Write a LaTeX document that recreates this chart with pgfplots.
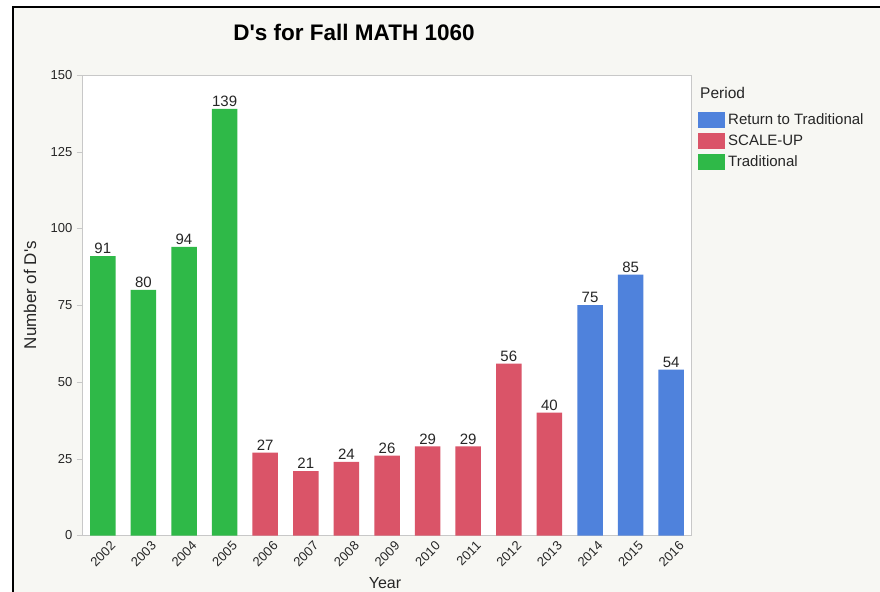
\documentclass[border=0pt]{standalone}
\usepackage{pgfplots}
\pgfplotsset{compat=1.18}
\usepackage{fontspec}
\setmainfont{Liberation Sans}
\definecolor{bgc}{HTML}{F7F7F3}
\definecolor{cgreen}{HTML}{2FB948}
\definecolor{cred}{HTML}{DA5468}
\definecolor{cblue}{HTML}{4F82DC}
\definecolor{axgray}{HTML}{C8C8C8}
\definecolor{txt}{HTML}{262626}
\begin{document}
\begin{tikzpicture}
\useasboundingbox (0,0) rectangle (880bp,592bp);
\fill[white] (0,0) rectangle (880bp,592bp);
\fill[bgc] (13bp,0) rectangle (880bp,585bp);
\draw[black,line width=2bp] (13bp,0) -- (13bp,585bp) -- (880bp,585bp);
\node[font=\bfseries\fontsize{22.5bp}{26bp}\selectfont] at (354bp,560bp) {D\textquotesingle s for Fall MATH 1060};
\node[anchor=base west,font=\fontsize{15.5bp}{18bp}\selectfont,text=txt,inner sep=0pt] at (700bp,493bp) {Period};
\begin{axis}[
  at={(82.5bp,56.5bp)}, anchor=south west,
  scale only axis, width=609bp, height=460.5bp,
  xmin=-0.5, xmax=14.5, ymin=0, ymax=150,
  axis background/.style={fill=white},
  axis line style={axgray},
  ytick={0,25,50,75,100,125,150},
  ytick pos=left,
  xtick={0,...,14},
  xticklabels={2002,2003,2004,2005,2006,2007,2008,2009,2010,2011,2012,2013,2014,2015,2016},
  tick align=outside, major tick length=6bp,
  ytick style={axgray},
  xtick style={draw=none},
  /pgf/number format/assume math mode=true,
  tick label style={font=\fontsize{13bp}{15bp}\selectfont, text=txt},
  yticklabel style={inner sep=0pt, xshift=-4bp},
  xticklabel style={rotate=45, anchor=north east, inner sep=0pt, xshift=6bp, yshift=-4bp},
  ylabel={Number of D\textquotesingle s},
  ylabel style={at={(axis description cs:-0.0862,0.522)}, anchor=center, font=\fontsize{17bp}{20bp}\selectfont, text=txt},
  xlabel={Year},
  xlabel style={at={(axis description cs:0.4967,-0.103)}, anchor=center, font=\fontsize{16bp}{19bp}\selectfont, text=txt},
  ybar, bar width=25.5bp, bar shift=0pt,
  nodes near coords,
  nodes near coords style={font=\fontsize{15bp}{17bp}\selectfont, text=txt, inner sep=2bp},
  legend style={at={(1.0107,0.921)}, anchor=north west, draw=none, fill=none, inner sep=0pt,
    row sep=5bp, font=\fontsize{15bp}{18bp}\selectfont, text=txt,
    nodes={inner sep=0pt}},
  legend cell align=left,
  legend image code/.code={\fill[#1] (0bp,-8bp) rectangle (27bp,8bp); \path (30bp,0bp);},
]
\addplot[fill=cblue, draw=none] coordinates {(12,75) (13,85) (14,54)};
\addlegendentry{Return to Traditional}
\addplot[fill=cred, draw=none] coordinates {(4,27) (5,21) (6,24) (7,26) (8,29) (9,29) (10,56) (11,40)};
\addlegendentry{SCALE-UP}
\addplot[fill=cgreen, draw=none] coordinates {(0,91) (1,80) (2,94) (3,139)};
\addlegendentry{Traditional}
\end{axis}
\end{tikzpicture}
\end{document}
